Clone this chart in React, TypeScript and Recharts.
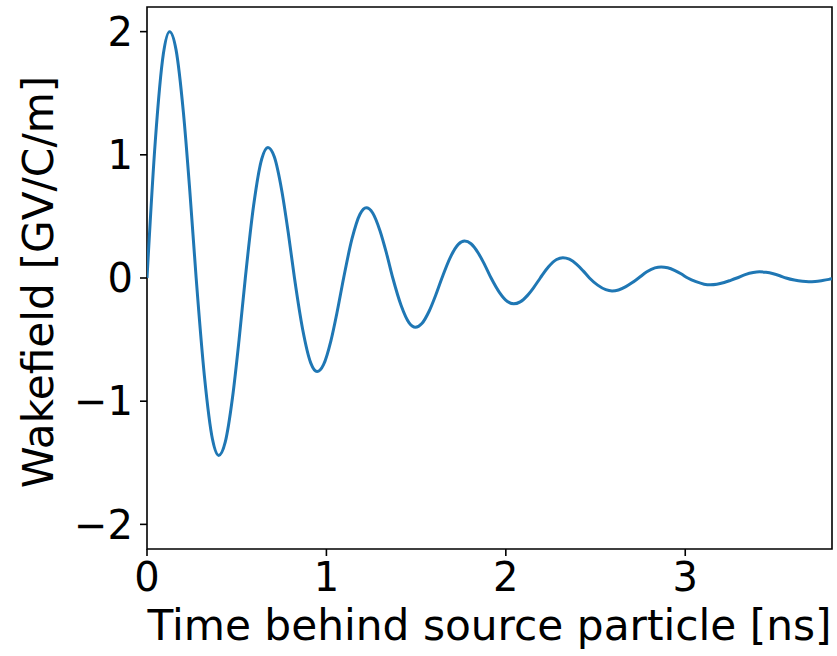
import { LineChart, Line, XAxis, YAxis, ReferenceArea, Label } from 'recharts';

// time behind the source particle [ns]
const timeNs = [
  0, 0.046, 0.091, 0.126, 0.162, 0.203, 0.239,
  0.274, 0.32, 0.365, 0.4, 0.436, 0.477, 0.513,
  0.548, 0.594, 0.639, 0.674, 0.71, 0.751, 0.787,
  0.822, 0.868, 0.913, 0.948, 0.984, 1.025, 1.061,
  1.096, 1.142, 1.187, 1.222, 1.258, 1.299, 1.335,
  1.37, 1.416, 1.461, 1.496, 1.532, 1.573, 1.609,
  1.644, 1.69, 1.735, 1.77, 1.806, 1.847, 1.883,
  1.918, 1.964, 2.009, 2.044, 2.08, 2.121, 2.157,
  2.192, 2.238, 2.283, 2.318, 2.354, 2.395, 2.431,
  2.466, 2.512, 2.557, 2.592, 2.628, 2.669, 2.705,
  2.74, 2.786, 2.831, 2.866, 2.902, 2.943, 2.979,
  3.014, 3.06, 3.105, 3.14, 3.176, 3.217, 3.253,
  3.288, 3.334, 3.379, 3.414, 3.45, 3.491, 3.527,
  3.562, 3.608, 3.653, 3.688, 3.724, 3.765, 3.801, 3.818,
];

// wakefield [GV/C/m]
const wakefield = [
  0, 1.106, 1.818, 2.0, 1.852, 1.342, 0.7,
  0, -0.796, -1.309, -1.44, -1.333, -0.966, -0.504,
  0, 0.586, 0.964, 1.06, 0.982, 0.711, 0.371,
  0, -0.42, -0.691, -0.76, -0.704, -0.51, -0.266,
  0, 0.315, 0.518, 0.57, 0.528, 0.382, 0.2,
  0, -0.221, -0.364, -0.4, -0.37, -0.268, -0.14,
  0, 0.166, 0.273, 0.3, 0.278, 0.201, 0.105,
  0, -0.116, -0.191, -0.21, -0.194, -0.141, -0.074,
  0, 0.091, 0.15, 0.165, 0.153, 0.111, 0.058,
  0, -0.058, -0.095, -0.105, -0.097, -0.07, -0.037,
  0, 0.05, 0.082, 0.09, 0.083, 0.06, 0.032,
  0, -0.03, -0.05, -0.055, -0.051, -0.037, -0.019,
  0, 0.028, 0.045, 0.05, 0.046, 0.034, 0.018,
  0, -0.017, -0.027, -0.03, -0.028, -0.02, -0.011, -0.006,
];

const xTicks = [0, 1, 2, 3];
const yTicks = [-2, -1, 0, 1, 2];

const X_MAX = 3.818;
const Y_MIN = -2.2;
const Y_MAX = 2.2;

const data = timeNs.map((t, i) => ({ t, w: wakefield[i] }));

const font = 'DejaVu Sans';
const fmt = (v: number) => String(v).replace('-', '\u2212');

export default function App() {
  return (
    <div style={{ position: 'absolute', left: 0, top: 0, width: 837, height: 656, background: '#fff' }}>
      <LineChart width={837} height={656} data={data} margin={{ top: 7, right: 5, bottom: 0, left: 0 }}>
        <XAxis
          dataKey="t"
          type="number"
          domain={[0, X_MAX]}
          ticks={xTicks}
          allowDataOverflow
          height={107}
          axisLine={false}
          tickSize={7}
          tickMargin={7}
          tickLine={{ stroke: '#000', strokeWidth: 1.6 }}
          tick={{ fill: '#000', fontSize: 40, fontFamily: font }}
          tickFormatter={fmt}
        >
          <Label
            value="Time behind source particle [ns]"
            position="insideBottom"
            offset={16}
            fill="#000"
            fontSize={42.3}
            fontFamily={font}
          />
        </XAxis>
        <YAxis
          type="number"
          domain={[Y_MIN, Y_MAX]}
          ticks={yTicks}
          allowDataOverflow
          width={147}
          axisLine={false}
          tickSize={7}
          tickMargin={7}
          tickLine={{ stroke: '#000', strokeWidth: 1.6 }}
          tick={{ fill: '#000', fontSize: 40, fontFamily: font }}
          tickFormatter={fmt}
        >
          <Label
            content={() => (
              <text
                transform="translate(53, 282) rotate(-90)"
                textAnchor="middle"
                fill="#000"
                fontSize={42.3}
                fontFamily={font}
              >
                Wakefield [GV/C/m]
              </text>
            )}
          />
        </YAxis>
        <Line
          dataKey="w"
          type="monotone"
          stroke="#1f77b4"
          strokeWidth={3}
          dot={false}
          isAnimationActive={false}
        />
        <ReferenceArea
          x1={0}
          x2={X_MAX}
          y1={Y_MIN}
          y2={Y_MAX}
          fill="none"
          fillOpacity={0}
          stroke="#000"
          strokeWidth={1.6}
        />
      </LineChart>
    </div>
  );
}
